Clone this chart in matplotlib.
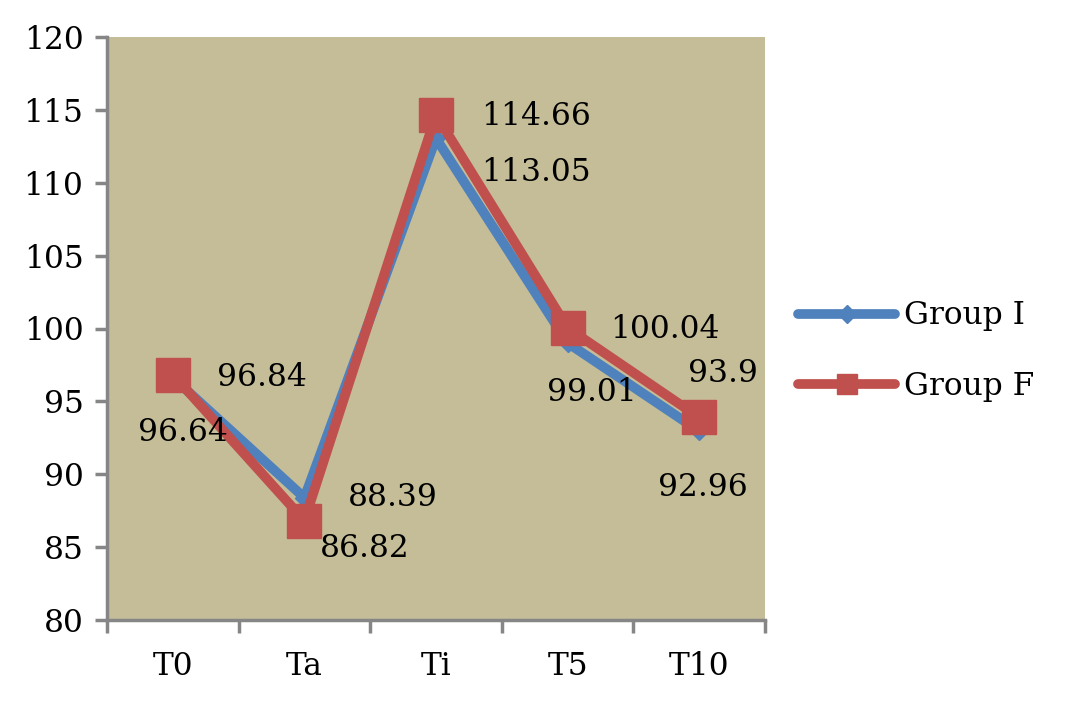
import matplotlib.pyplot as plt
from matplotlib.lines import Line2D

# data
times = ['T0', 'Ta', 'Ti', 'T5', 'T10']
group_i = [96.64, 88.39, 113.05, 99.01, 92.96]
group_f = [96.84, 86.82, 114.66, 100.04, 93.9]

# label offsets (pixels) from each point
off_i = [(10, -55), (88, 0), (100, -34), (24, -50), (4, -56)]
off_f = [(89, -3), (60, -28), (100, -2), (97, -2), (24, 44)]

blue = '#4F81BD'
red = '#C0504D'
grey = '#868686'

plt.rcParams['font.family'] = 'DejaVu Serif'
fs = 22.5

fig = plt.figure(figsize=(10.74, 7.09), dpi=100)
ax = fig.add_axes([107/1074, 1 - 620/709, (765-107)/1074, (620-37)/709])
ax.set_facecolor('#C4BD97')

x = list(range(len(times)))
ax.plot(x, group_i, color=blue, lw=7, marker='D', ms=9, solid_joinstyle='round', solid_capstyle='round')
ax.plot(x, group_f, color=red, lw=7, marker='s', ms=24, solid_joinstyle='round', solid_capstyle='round')

for xi, v, o in zip(x, group_i, off_i):
    ax.annotate('%g' % v, (xi, v), xytext=o, textcoords='offset pixels',
                ha='center', va='center', fontsize=fs)
for xi, v, o in zip(x, group_f, off_f):
    ax.annotate('%g' % v, (xi, v), xytext=o, textcoords='offset pixels',
                ha='center', va='center', fontsize=fs)

ax.set_xlim(-0.5, 4.5)
ax.set_ylim(80, 120)
ax.set_yticks(range(80, 121, 5))
ax.set_xticks(x)
ax.set_xticklabels(times)
ax.set_xticks([i - 0.5 for i in range(6)], minor=True)
ax.tick_params(axis='x', which='major', length=0, pad=22, labelsize=fs)
ax.tick_params(axis='x', which='minor', length=9, width=2.5, color=grey)
ax.tick_params(axis='y', length=9, width=2.5, color=grey, labelsize=fs, pad=8)

for s in ['top', 'right']:
    ax.spines[s].set_visible(False)
for s in ['left', 'bottom']:
    ax.spines[s].set_color(grey)
    ax.spines[s].set_linewidth(2.5)

handles = [
    Line2D([], [], color=blue, lw=7, marker='D', ms=9, solid_capstyle='round'),
    Line2D([], [], color=red, lw=7, marker='s', ms=14, solid_capstyle='round'),
]
fig.legend(handles, ['Group I', 'Group F'], loc='center left',
           bbox_to_anchor=(770/1074, 1 - 351/709), frameon=False,
           fontsize=fs, handlelength=3.1, labelspacing=1.25, handletextpad=0.3)

fig.savefig('out.png', dpi=100)
